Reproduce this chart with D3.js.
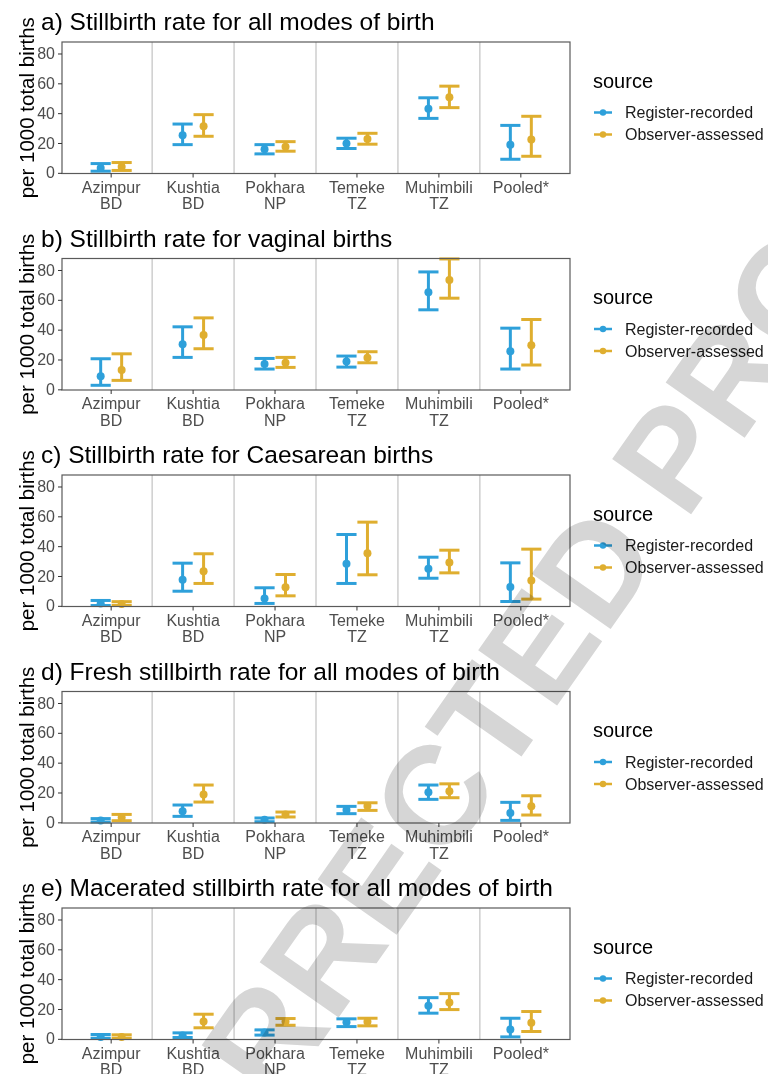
<!DOCTYPE html>
<html>
<head>
<meta charset="utf-8">
<script src="https://cdn.jsdelivr.net/npm/d3@7"></script>
<style>
  body { margin: 0; background: #fff; }
  svg { display: block; font-family: "Liberation Sans", Arial, sans-serif; }
  .tick text { fill: #4d4d4d; font-size: 16px; }
  .tick line { stroke: #333; }
</style>
</head>
<body>
<script>
// canvas
var w = 768, h = 1074;
var left = 62, right = 570;
var top0 = 42, panelStep = 216.5, panelH = 131.5;

// categories and panel titles
var sites = ["Azimpur\nBD", "Kushtia\nBD", "Pokhara\nNP", "Temeke\nTZ", "Muhimbili\nTZ", "Pooled*"];
var titles = [
    "a) Stillbirth rate for all modes of birth",
    "b) Stillbirth rate for vaginal births",
    "c) Stillbirth rate for Caesarean births",
    "d) Fresh stillbirth rate for all modes of birth",
    "e) Macerated stillbirth rate for all modes of birth"
];
var sources = ["Register-recorded", "Observer-assessed"];
var colors = ["#2ea0da", "#dfae2f"];
var yTicks = [0, 20, 40, 60, 80];

// [estimate, lower, upper] per site
var a_reg = [[3.3, 1.1, 6.2], [25.2, 18.9, 32.7], [15.8, 12.7, 18.9], [19.6, 16.3, 23.2], [43.0, 36.5, 50.3], [18.9, 9.1, 31.8]];
var a_obs = [[4.0, 1.6, 6.9], [31.2, 24.5, 39.0], [17.4, 14.5, 20.9], [22.7, 19.2, 26.5], [50.6, 43.7, 58.1], [22.3, 11.1, 37.9]];
var b_reg = [[8.7, 2.7, 20.5], [30.3, 21.4, 41.9], [16.9, 13.6, 20.7], [18.7, 14.9, 22.3], [65.1, 53.3, 78.7], [25.6, 13.6, 41.0]];
var b_obs = [[12.9, 6.0, 23.8], [36.5, 27.2, 47.9], [17.8, 14.7, 21.4], [21.2, 17.8, 25.2], [73.3, 61.1, 87.4], [29.6, 16.3, 46.8]];
var c_reg = [[1.5, 0.2, 3.6], [17.4, 9.8, 28.6], [4.9, 1.6, 12.1], [28.2, 15.0, 47.8], [24.8, 18.5, 32.6], [12.7, 2.9, 28.8]];
var c_obs = [[1.2, 0.3, 2.8], [23.2, 15.0, 34.9], [12.5, 6.7, 21.0], [35.3, 20.8, 56.1], [29.1, 22.1, 37.3], [17.0, 4.5, 38.0]];
var d_reg = [[1.3, 0.2, 2.5], [7.4, 4.0, 11.6], [1.8, 0.4, 2.9], [8.2, 5.8, 10.7], [20.1, 15.4, 25.0], [6.2, 1.3, 13.4]];
var d_obs = [[3.3, 1.1, 5.3], [18.7, 13.6, 25.0], [5.3, 3.6, 6.9], [10.9, 8.0, 13.1], [20.9, 16.5, 25.8], [10.7, 4.9, 17.8]];
var e_reg = [[1.3, 0.4, 2.9], [2.2, 0.9, 4.0], [4.2, 2.5, 6.0], [11.1, 8.2, 13.4], [22.1, 17.2, 27.6], [6.2, 1.3, 13.8]];
var e_obs = [[1.3, 0.4, 2.7], [11.6, 7.4, 16.5], [11.6, 9.1, 13.6], [11.4, 8.7, 13.8], [24.3, 19.6, 30.3], [10.7, 4.9, 18.3]];

var panels = [[a_reg, a_obs], [b_reg, b_obs], [c_reg, c_obs], [d_reg, d_obs], [e_reg, e_obs]];

var svg = d3.select("body").append("svg")
    .attr("width", w)
    .attr("height", h);

var x = d3.scaleBand()
    .domain(sites)
    .range([left, right])
    .paddingInner(0)
    .paddingOuter(0.1);

var bw = x.bandwidth();
var dodge = bw * 0.128;   // offset of each source from the band centre
var capHalf = bw * 0.123;

panels.forEach(function(series, p) {
    var top = top0 + p * panelStep;
    var bottom = top + panelH;

    var y = d3.scaleLinear()
        .domain([-0.45, 87.7])
        .range([bottom, top]);

    var g = svg.append("g");

    //separators between sites
    g.selectAll(".sep")
        .data(sites.slice(1))
        .enter().append("line")
        .attr("x1", function(d) { return x(d); })
        .attr("x2", function(d) { return x(d); })
        .attr("y1", top)
        .attr("y2", bottom)
        .attr("stroke", "#c2c2c2")
        .attr("stroke-width", 1.2);

    //error bars + points
    series.forEach(function(vals, s) {
        var off = s === 0 ? -dodge : dodge;
        var col = colors[s];
        var bars = g.append("g").selectAll("g")
            .data(vals)
            .enter().append("g")
            .attr("transform", function(d, i) { return "translate(" + (x(sites[i]) + bw / 2 + off) + ",0)"; });

        bars.append("line")
            .attr("x1", 0).attr("x2", 0)
            .attr("y1", function(d) { return y(d[1]); })
            .attr("y2", function(d) { return y(d[2]); })
            .attr("stroke", col).attr("stroke-width", 3);

        bars.append("line")
            .attr("x1", -capHalf).attr("x2", capHalf)
            .attr("y1", function(d) { return y(d[2]); })
            .attr("y2", function(d) { return y(d[2]); })
            .attr("stroke", col).attr("stroke-width", 3);

        bars.append("line")
            .attr("x1", -capHalf).attr("x2", capHalf)
            .attr("y1", function(d) { return y(d[1]); })
            .attr("y2", function(d) { return y(d[1]); })
            .attr("stroke", col).attr("stroke-width", 3);

        bars.append("circle")
            .attr("cx", 0)
            .attr("cy", function(d) { return y(d[0]); })
            .attr("r", 4)
            .attr("fill", col);
    });

    //panel border
    g.append("rect")
        .attr("x", left).attr("y", top)
        .attr("width", right - left).attr("height", panelH)
        .attr("fill", "none")
        .attr("stroke", "#5a5a5a")
        .attr("stroke-width", 1.2);

    //axes
    var xAxis = d3.axisBottom(x).tickSize(4).tickPadding(4);
    var xg = g.append("g")
        .attr("transform", "translate(0," + bottom + ")")
        .call(xAxis);
    xg.select(".domain").remove();
    xg.selectAll(".tick text").each(function(d) {
        var t = d3.select(this);
        var lines = d.split("\n");
        t.text(null);
        lines.forEach(function(l, i) {
            t.append("tspan").attr("x", 0).attr("dy", i === 0 ? "0.71em" : "1.03em").text(l);
        });
    });

    var yAxis = d3.axisLeft(y).tickValues(yTicks).tickSize(4).tickPadding(3);
    var yg = g.append("g")
        .attr("transform", "translate(" + left + ",0)")
        .call(yAxis);
    yg.select(".domain").remove();

    //y title
    g.append("text")
        .attr("transform", "translate(34," + (top + panelH / 2) + ") rotate(-90)")
        .attr("text-anchor", "middle")
        .attr("font-size", 20.5)
        .attr("fill", "#000")
        .text("per 1000 total births");

    //panel title
    g.append("text")
        .attr("x", 41)
        .attr("y", top - 12)
        .attr("font-size", 24.5)
        .attr("fill", "#000")
        .text(titles[p]);

    //legend
    var lg = g.append("g").attr("transform", "translate(593," + top + ")");
    lg.append("text")
        .attr("x", 0).attr("y", 45.5)
        .attr("font-size", 20)
        .text("source");
    sources.forEach(function(name, s) {
        var ky = 70.5 + s * 22;
        lg.append("line")
            .attr("x1", 1).attr("x2", 19)
            .attr("y1", ky).attr("y2", ky)
            .attr("stroke", colors[s]).attr("stroke-width", 2.5);
        lg.append("circle")
            .attr("cx", 10).attr("cy", ky).attr("r", 3.2)
            .attr("fill", colors[s]);
        lg.append("text")
            .attr("x", 32).attr("y", ky + 5.8)
            .attr("font-size", 16)
            .attr("fill", "#1a1a1a")
            .text(name);
    });
});

//proof watermark
svg.append("text")
    .attr("transform", "translate(505,780) rotate(-55)")
    .attr("text-anchor", "middle")
    .attr("font-size", 140)
    .attr("font-weight", "bold")
    .attr("fill", "#d6d6d6")
    .style("mix-blend-mode", "multiply")
    .text("UNCORRECTED PROOF");
</script>
</body>
</html>
